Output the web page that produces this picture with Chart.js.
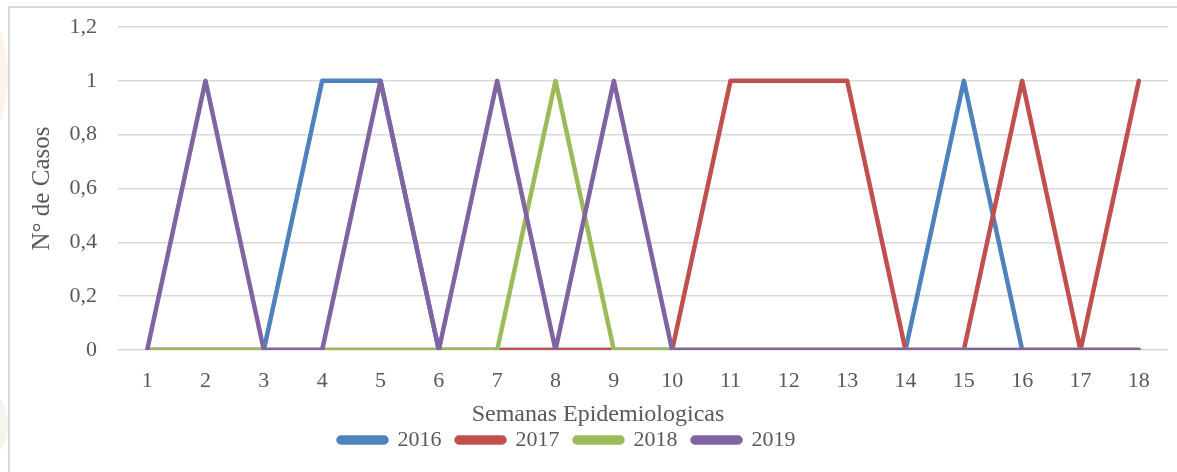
<!DOCTYPE html>
<html>
<head>
<meta charset="utf-8">
<script src="https://cdn.jsdelivr.net/npm/chart.js@4"></script>
<style>
  html, body { margin: 0; padding: 0; background: #fff; }
  #wrap { position: absolute; left: 0; top: 0; width: 1177px; height: 472px; overflow: hidden; }
  #frame { position: absolute; left: 8px; top: 6px; width: 1175px; height: 470px;
           border: 2px solid #d9d9d9; box-sizing: border-box; }
  .wm1 { position: absolute; left: -40px; top: 15px; width: 48px; height: 120px;
         border-radius: 50%; background: #fdf3e8; }
  .wm2 { position: absolute; left: -40px; top: 390px; width: 48px; height: 70px;
         border-radius: 50%; background: #f2f7ee; }
  canvas { position: absolute; left: 0; top: 0; }
</style>
</head>
<body>
<div id="wrap">
  <div class="wm1"></div>
  <div class="wm2"></div>
  <div id="frame"></div>
  <canvas id="chart" width="1177" height="472"></canvas>
</div>
<script>
// semanas epidemiologicas
const semanas = ["1","2","3","4","5","6","7","8","9","10","11","12","13","14","15","16","17","18"];

const casos2016 = [0,0,0,1,1,0,0,0,0,0,0,0,0,0,1,0,0,0];
const casos2017 = [0,0,0,0,0,0,0,0,0,0,1,1,1,0,0,1,0,1];
const casos2018 = [0,0,0,0,0,0,0,1,0,0,0,0,0,0,0,0,0,0];
const casos2019 = [0,1,0,0,1,0,1,0,1,0,0,0,0,0,0,0,0,0];

const yTickLabels = ["0", "0,2", "0,4", "0,6", "0,8", "1", "1,2"];

const seriesNames = ["2016", "2017", "2018", "2019"];
const seriesColors = ["#4f81bd", "#c0504d", "#9bbb59", "#8064a2"];
const allSeries = [casos2016, casos2017, casos2018, casos2019];

const FONT = "'Liberation Serif', 'DejaVu Serif', serif";
const TXT = "#595959";

const datasets = allSeries.map((d, i) => ({
  label: seriesNames[i],
  data: d,
  borderColor: seriesColors[i],
  backgroundColor: seriesColors[i],
  borderWidth: 4.5,
  pointRadius: 0,
  tension: 0,
  borderCapStyle: "round",
  borderJoinStyle: "round",
  order: 4 - i, // ultima serie encima (como Excel)
}));

// la leyenda del original no esta centrada, la corro un poco a la izquierda
const legendShift = {
  id: "legendShift",
  afterLayout(chart) {
    chart.legend.left -= 17;
    chart.legend.right -= 17;
  },
};

// el titulo del eje x tampoco esta centrado en el area del grafico
function shiftXTitle(s) {
  s.height = 64;
  if (s._titleShifted) return;
  const orig = s.drawTitle;
  s.drawTitle = function () {
    this.ctx.save();
    this.ctx.translate(-45, 0);
    orig.call(this);
    this.ctx.restore();
  };
  s._titleShifted = true;
}

new Chart(document.getElementById("chart"), {
  type: "line",
  data: { labels: semanas, datasets: datasets },
  plugins: [legendShift],
  options: {
    responsive: false,
    animation: false,
    layout: { padding: { top: 27, right: 9, bottom: 11, left: 0 } },
    plugins: {
      tooltip: { enabled: false },
      legend: {
        position: "bottom",
        labels: {
          sort: (a, b) => a.datasetIndex - b.datasetIndex,
          boxWidth: 48,
          boxHeight: 5,
          useBorderRadius: true,
          borderRadius: 2.5,
          padding: 15,
          color: TXT,
          font: { family: FONT, size: 22 },
        },
      },
    },
    scales: {
      x: {
        offset: true,
        grid: { display: false },
        border: { display: false },
        ticks: { color: TXT, font: { family: FONT, size: 22 }, maxRotation: 0, padding: 10 },
        title: { display: true, text: "Semanas Epidemiologicas", color: TXT,
                 font: { family: FONT, size: 24 }, padding: { top: 0, bottom: -15 } },
        afterFit: shiftXTitle,
      },
      y: {
        min: 0,
        max: 1.2,
        ticks: {
          stepSize: 0.2, color: TXT, font: { family: FONT, size: 22 }, padding: 21,
          callback: (v, i) => yTickLabels[i],
        },
        grid: { color: "#d9d9d9", lineWidth: 1.5, drawTicks: false },
        border: { display: false },
        title: { display: true, text: "N° de Casos", color: TXT,
                 font: { family: FONT, size: 25 }, padding: { top: 27, bottom: 0 } },
        afterFit: (s) => {
          s.width = 118;
          s.paddingTop = 0;
          s.paddingBottom = 0;
        },
      },
    },
  },
});
</script>
</body>
</html>
